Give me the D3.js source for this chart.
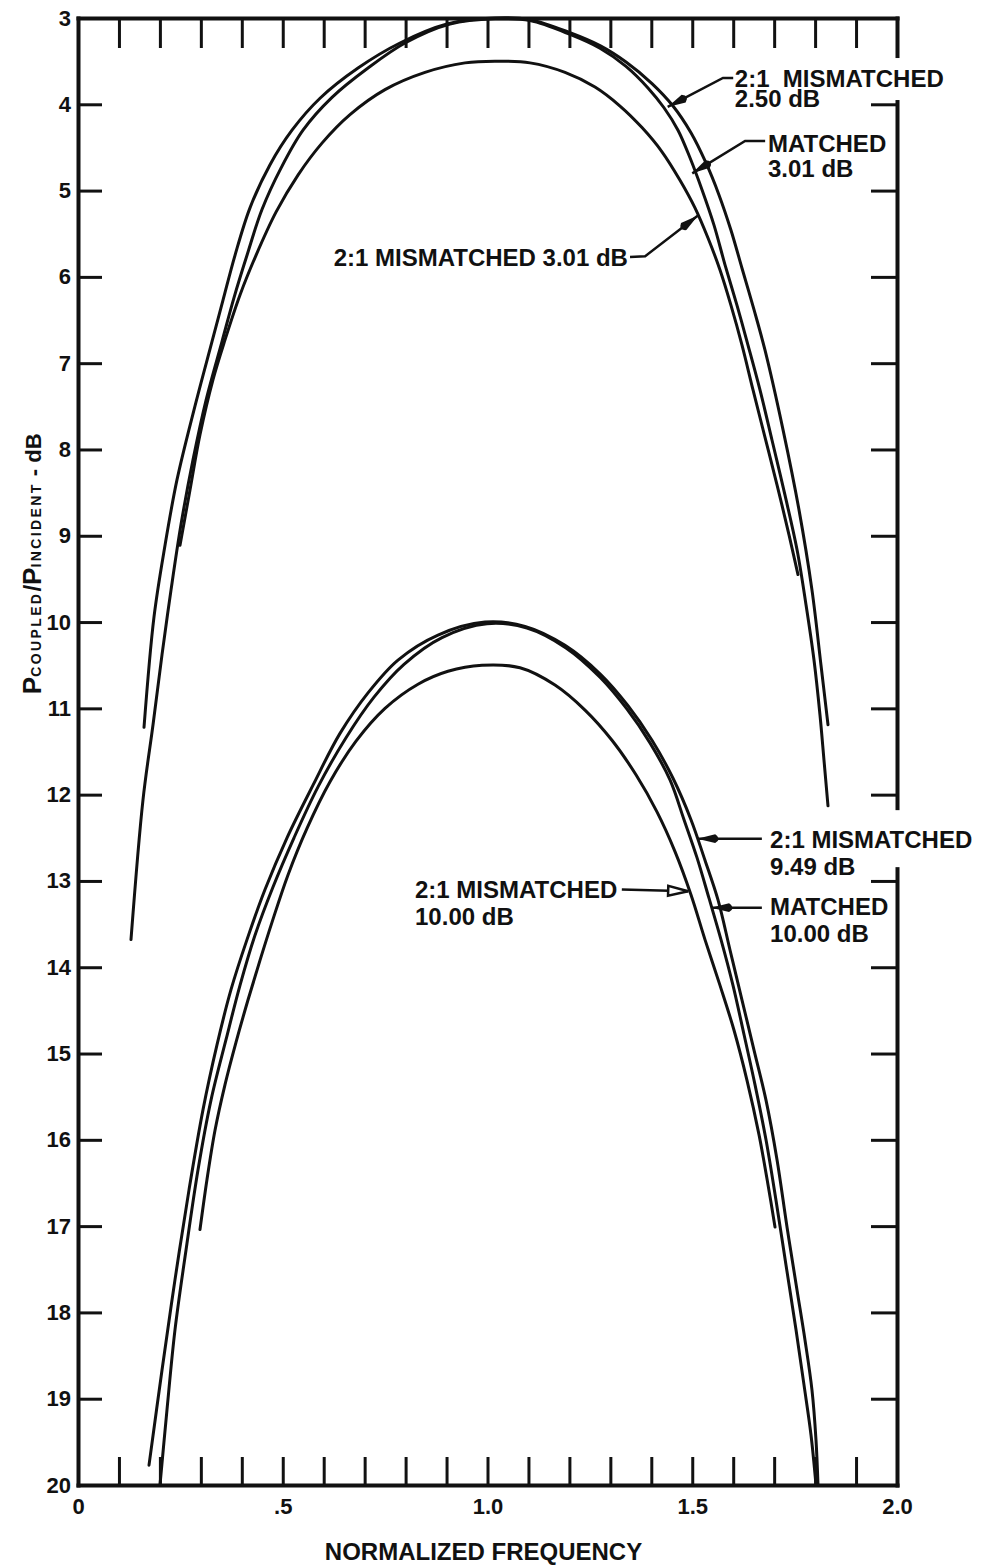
<!DOCTYPE html>
<html>
<head>
<meta charset="utf-8">
<script src="https://cdn.jsdelivr.net/npm/d3@7"></script>
<style>
  body { margin: 0; background: #fff; }
  text { font-family: "Liberation Sans", Arial, sans-serif; font-weight: bold; fill: #111; }
</style>
</head>
<body>
<svg id="chart" width="983" height="1568"></svg>
<script>
// Axis tick values and labels
const freqMinorTicks = [0.1, 0.2, 0.3, 0.4, 0.5, 0.6, 0.7, 0.8, 0.9, 1.0, 1.1, 1.2, 1.3, 1.4, 1.5, 1.6, 1.7, 1.8, 1.9];
const freqLabelTicks = [0, 0.5, 1.0, 1.5, 2.0];
const freqLabelText = ["0", ".5", "1.0", "1.5", "2.0"];
const dbTicks = [3, 4, 5, 6, 7, 8, 9, 10, 11, 12, 13, 14, 15, 16, 17, 18, 19, 20];

// Coupling curves: [normalized frequency, Pcoupled/Pincident in dB]
// 3 dB coupler family
const upperMismatched250 = [
  [0.1612, 11.22], [0.1856, 9.94], [0.2125, 9.11], [0.2418, 8.35], [0.2833, 7.54], [0.3272, 6.75],
  [0.3541, 6.27], [0.3834, 5.75], [0.4200, 5.20], [0.4689, 4.70], [0.5226, 4.30], [0.5910, 3.93],
  [0.6838, 3.58], [0.7863, 3.29], [0.9011, 3.07], [1.0183, 3.00], [1.1038, 3.02], [1.2015, 3.17],
  [1.2747, 3.32], [1.3382, 3.51], [1.4017, 3.76], [1.4530, 4.02], [1.4969, 4.33], [1.5336, 4.68],
  [1.5653, 5.05], [1.5946, 5.46], [1.6215, 5.90], [1.6508, 6.38], [1.6777, 6.85], [1.7216, 7.77],
  [1.7607, 8.70], [1.7924, 9.63], [1.8144, 10.50], [1.8315, 11.19]
];
const upperMatched301 = [
  [0.1294, 13.68], [0.1587, 12.06], [0.1832, 11.19], [0.2051, 10.38], [0.2271, 9.63], [0.2515, 8.87],
  [0.2808, 8.12], [0.3126, 7.43], [0.3516, 6.75], [0.3810, 6.24], [0.4127, 5.75], [0.4493, 5.22],
  [0.4957, 4.74], [0.5495, 4.30], [0.6203, 3.92], [0.7082, 3.58], [0.7985, 3.29], [0.9084, 3.07],
  [1.0183, 3.01], [1.1038, 3.03], [1.2015, 3.19], [1.2747, 3.35], [1.3382, 3.56], [1.3919, 3.81],
  [1.4310, 4.04], [1.4652, 4.30], [1.4945, 4.62], [1.5238, 4.99], [1.5531, 5.40], [1.5800, 5.86],
  [1.6093, 6.33], [1.6361, 6.79], [1.6654, 7.31], [1.6947, 7.89], [1.7265, 8.53], [1.7558, 9.16],
  [1.7778, 9.80], [1.7973, 10.44], [1.8120, 11.08], [1.8217, 11.60], [1.8315, 12.13]
];
const upperMismatched301 = [
  [0.2491, 9.11], [0.2735, 8.47], [0.2979, 7.83], [0.3297, 7.19], [0.3590, 6.73], [0.3956, 6.21],
  [0.4347, 5.75], [0.4835, 5.25], [0.5372, 4.82], [0.5958, 4.45], [0.6642, 4.12], [0.7497, 3.83],
  [0.8474, 3.63], [0.9451, 3.52], [1.0183, 3.50], [1.1038, 3.52], [1.1893, 3.63], [1.2625, 3.80],
  [1.3236, 4.02], [1.3773, 4.27], [1.4261, 4.55], [1.4701, 4.88], [1.5067, 5.20], [1.5385, 5.55],
  [1.5678, 5.92], [1.5946, 6.33], [1.6215, 6.79], [1.6484, 7.31], [1.6777, 7.86], [1.7070, 8.41],
  [1.7363, 8.99], [1.7582, 9.45]
];
// 10 dB coupler family
const lowerMismatched949 = [
  [0.1734, 19.77], [0.2051, 18.67], [0.2369, 17.62], [0.2711, 16.58], [0.3053, 15.65], [0.3394, 14.90],
  [0.3736, 14.26], [0.4127, 13.68], [0.4567, 13.10], [0.5104, 12.50], [0.5739, 11.89], [0.6398, 11.29],
  [0.7082, 10.82], [0.7814, 10.44], [0.8791, 10.15], [0.9939, 10.00], [1.0916, 10.05], [1.1893, 10.27],
  [1.2747, 10.60], [1.3431, 10.97], [1.4017, 11.37], [1.4530, 11.81], [1.4969, 12.29], [1.5311, 12.76],
  [1.5629, 13.22], [1.5922, 13.80], [1.6215, 14.38], [1.6508, 14.96], [1.6801, 15.54], [1.7070, 16.23],
  [1.7314, 17.01], [1.7558, 17.74], [1.7753, 18.32], [1.7924, 18.90], [1.8022, 19.48], [1.8071, 20.00]
];
const lowerMatched1000 = [
  [0.2002, 20.00], [0.2173, 19.13], [0.2369, 18.20], [0.2637, 17.28], [0.2930, 16.35], [0.3248, 15.54],
  [0.3614, 14.84], [0.3956, 14.21], [0.4322, 13.63], [0.4762, 13.07], [0.5275, 12.50], [0.5861, 11.91],
  [0.6545, 11.34], [0.7228, 10.87], [0.7961, 10.49], [0.8889, 10.18], [0.9988, 10.02], [1.0965, 10.07],
  [1.1917, 10.30], [1.2747, 10.64], [1.3407, 11.01], [1.3968, 11.40], [1.4457, 11.83], [1.4799, 12.29],
  [1.5116, 12.73], [1.5409, 13.20], [1.5702, 13.68], [1.5995, 14.21], [1.6264, 14.78], [1.6532, 15.36],
  [1.6801, 16.00], [1.7045, 16.70], [1.7289, 17.45], [1.7534, 18.20], [1.7729, 18.84], [1.7900, 19.42],
  [1.8022, 20.00]
];
const lowerMismatched1000 = [
  [0.2979, 17.04], [0.3150, 16.46], [0.3346, 15.89], [0.3590, 15.36], [0.3858, 14.87], [0.4151, 14.38],
  [0.4444, 13.92], [0.4737, 13.48], [0.5128, 12.93], [0.5592, 12.39], [0.6154, 11.85], [0.6789, 11.38],
  [0.7497, 11.00], [0.8303, 10.72], [0.9035, 10.57], [0.9866, 10.50], [1.0794, 10.53], [1.1648, 10.73],
  [1.2381, 11.02], [1.3040, 11.37], [1.3626, 11.77], [1.4139, 12.20], [1.4579, 12.66], [1.4969, 13.16],
  [1.5311, 13.68], [1.5678, 14.21], [1.6020, 14.73], [1.6337, 15.31], [1.6630, 15.94], [1.6850, 16.52],
  [1.7021, 17.01]
];

const curves = [upperMismatched250, upperMatched301, upperMismatched301,
                lowerMismatched949, lowerMatched1000, lowerMismatched1000];

// Curve labels with leader arrows (positions in data units)
const notes = [
  { lines: ["2:1  MISMATCHED", "2.50 dB"], at: [1.604, 3.80], gap: 20, anchor: "start",
    lead: [[1.600, 3.695], [1.575, 3.695], [1.440, 4.03]], head: "solid", mask: [29, 13] },
  { lines: ["MATCHED", "3.01 dB"], at: [1.685, 4.55], gap: 25, anchor: "start",
    lead: [[1.678, 4.425], [1.629, 4.425], [1.500, 4.80]], head: "solid" },
  { lines: ["2:1 MISMATCHED 3.01 dB"], at: [1.343, 5.87], gap: 0, anchor: "end",
    lead: [[1.348, 5.77], [1.385, 5.76], [1.514, 5.29]], head: "solid" },
  { lines: ["2:1 MISMATCHED", "9.49 dB"], at: [1.690, 12.62], gap: 27, anchor: "start",
    lead: [[1.670, 12.51], [1.512, 12.51]], head: "solid", mask: [38, 19] },
  { lines: ["MATCHED", "10.00 dB"], at: [1.690, 13.39], gap: 27, anchor: "start",
    lead: [[1.670, 13.31], [1.546, 13.31]], head: "solid" },
  { lines: ["2:1 MISMATCHED", "10.00 dB"], at: [0.823, 13.20], gap: 27, anchor: "start",
    lead: [[1.328, 13.10], [1.490, 13.12]], head: "open" }
];

const svg = d3.select("#chart");
const x = d3.scaleLinear().domain([0, 2]).range([78, 897]);
const y = d3.scaleLinear().domain([3, 20]).range([18, 1485]);

const defs = svg.append("defs");
defs.append("marker").attr("id", "head-solid")
  .attr("markerUnits", "userSpaceOnUse").attr("orient", "auto")
  .attr("markerWidth", 28).attr("markerHeight", 12)
  .attr("viewBox", "0 -6 28 12").attr("refX", 26).attr("refY", 0)
  .append("path").attr("d", "M26,0 L8,-4.4 Q1,0 8,4.4 Z").attr("fill", "#111");
defs.append("marker").attr("id", "head-open")
  .attr("markerUnits", "userSpaceOnUse").attr("orient", "auto")
  .attr("markerWidth", 26).attr("markerHeight", 14)
  .attr("viewBox", "0 -7 26 14").attr("refX", 23).attr("refY", 0)
  .append("path").attr("d", "M23,0 L3,-5 L3,5 Z")
  .attr("fill", "#fff").attr("stroke", "#111").attr("stroke-width", 2.5);

// Curves
const line = d3.line().x(d => x(d[0])).y(d => y(d[1])).curve(d3.curveCatmullRom.alpha(0.5));
svg.append("g").selectAll("path").data(curves).join("path")
  .attr("d", line)
  .attr("fill", "none").attr("stroke", "#111")
  .attr("stroke-width", 3).attr("stroke-linecap", "round");

// Frame and ticks
function styleAxis(g, fontSize) {
  g.select(".domain").attr("stroke", "#111").attr("stroke-width", 4).attr("stroke-linecap", "square");
  g.selectAll(".tick line").attr("stroke", "#111").attr("stroke-width", 3);
  g.selectAll(".tick text").attr("fill", "#111")
    .style("font-size", fontSize + "px").style("font-family", '"Liberation Sans", Arial, sans-serif')
    .style("font-weight", "bold");
}

svg.append("g").attr("transform", `translate(0,${y(3)})`)
  .call(d3.axisTop(x).tickValues(freqMinorTicks).tickSize(-30).tickSizeOuter(0).tickFormat(""))
  .call(g => styleAxis(g, 22));

svg.append("g").attr("transform", `translate(0,${y(20)})`)
  .call(d3.axisBottom(x).tickValues(freqMinorTicks).tickSize(-28).tickSizeOuter(0).tickFormat(""))
  .call(g => styleAxis(g, 22));

svg.append("g").attr("transform", `translate(0,${y(20)})`)
  .call(d3.axisBottom(x).tickValues(freqLabelTicks).tickSize(0).tickPadding(13)
    .tickFormat((d, i) => freqLabelText[i]))
  .call(g => g.select(".domain").remove())
  .call(g => styleAxis(g, 22));

svg.append("g").attr("transform", `translate(${x(0)},0)`)
  .call(d3.axisLeft(y).tickValues(dbTicks).tickSize(-24).tickSizeOuter(0).tickPadding(7)
    .tickFormat(d3.format("d")))
  .call(g => styleAxis(g, 22));

svg.append("g").attr("transform", `translate(${x(2)},0)`)
  .call(d3.axisRight(y).tickValues(dbTicks).tickSize(-26).tickSizeOuter(0).tickFormat(""))
  .call(g => styleAxis(g, 22));

// Axis titles
svg.append("text")
  .attr("x", x(1.0) - 4).attr("y", 1560)
  .attr("text-anchor", "middle")
  .style("font-size", "24px")
  .text("NORMALIZED FREQUENCY");

const yTitle = svg.append("text")
  .attr("transform", `translate(41,${(y(9.05) + y(9.6)) / 2}) rotate(-90)`)
  .attr("text-anchor", "middle")
  .style("white-space", "pre");
yTitle.append("tspan").style("font-size", "26px").text("P");
yTitle.append("tspan").style("font-size", "14px").style("letter-spacing", "2.4px").text("COUPLED");
yTitle.append("tspan").style("font-size", "24px").text("/");
yTitle.append("tspan").style("font-size", "26px").text("P");
yTitle.append("tspan").style("font-size", "14px").style("letter-spacing", "2.4px").text("INCIDENT");
yTitle.append("tspan").style("font-size", "22px").text(" - dB");

// Curve labels
const noteLayer = svg.append("g");
const lead = d3.line().x(d => x(d[0])).y(d => y(d[1]));
notes.forEach(n => {
  const g = noteLayer.append("g");
  const texts = n.lines.map((t, i) =>
    g.append("text")
      .attr("x", x(n.at[0])).attr("y", y(n.at[1]) + i * n.gap)
      .attr("text-anchor", n.anchor)
      .style("font-size", "24px").style("white-space", "pre")
      .text(t));
  if (n.mask) {
    const b = texts[0].node().getBBox();
    const base = y(n.at[1]);
    g.insert("rect", "text")
      .attr("x", b.x - 4).attr("width", b.width + 8)
      .attr("y", base - n.mask[0]).attr("height", n.mask[0] + n.mask[1])
      .attr("fill", "#fff");
  }
  g.append("path").attr("d", lead(n.lead))
    .attr("fill", "none").attr("stroke", "#111").attr("stroke-width", 2.5)
    .attr("marker-end", `url(#head-${n.head})`);
});
</script>
</body>
</html>
